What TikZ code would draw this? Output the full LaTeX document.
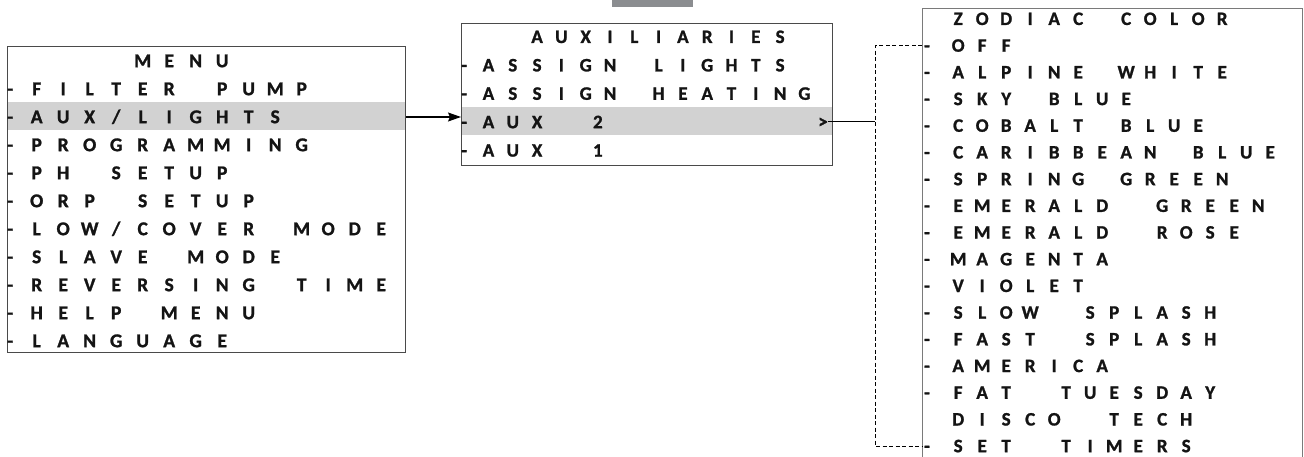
\documentclass[tikz,border=0pt]{standalone}
\usepackage{fontspec}
\setmainfont{Carlito}
\newfontfamily\lcdfont{Carlito Bold}[FakeBold=1.2]
\usetikzlibrary{arrows.meta}
\definecolor{ink}{HTML}{141414}
\definecolor{bandgray}{HTML}{D2D2D2}
\definecolor{tabgray}{HTML}{8B8D90}
\definecolor{frameA}{HTML}{4A4A4A}
\definecolor{frameB}{HTML}{7A7A7A}
\newlength\cellw
\makeatletter
\def\gr@end{\gr@end}
\def\gridrow#1{\edef\gr@tmp{#1}\expandafter\gr@loop\gr@tmp\gr@end}
\def\gr@loop#1{\ifx#1\gr@end\expandafter\@gobble\else\expandafter\@firstofone\fi{\gr@cell#1\gr@loop}}
\def\gr@cell#1{\ifx#1*\hbox to\cellw{}\else\ifx#1.\hbox to.5\cellw{}\else\ifx#1:\hbox to.3\cellw{}\else\hbox to\cellw{\hss#1\hss}\fi\fi\fi}
\makeatother
\tikzset{
  frame/.style={draw=frameA, line width=1pt, inner sep=0pt, anchor=north west},
  band/.style={fill=bandgray, draw=none, inner sep=0pt, anchor=north west},
  rowL/.style={anchor=west, inner sep=0pt, text height=12.4pt, text depth=0pt, text=ink,
    font={\lcdfont\fontsize{19.5}{19.5}\selectfont\setlength\cellw{26.5pt}}},
  rowM/.style={anchor=west, inner sep=0pt, text height=12pt, text depth=0pt, text=ink,
    font={\lcdfont\fontsize{19}{19}\selectfont\setlength\cellw{24.3pt}}},
  rowR/.style={anchor=west, inner sep=0pt, text height=12pt, text depth=0pt, text=ink,
    font={\lcdfont\fontsize{19}{19}\selectfont\setlength\cellw{24pt}}},
  link/.style={draw=black, line width=1.2pt},
  dline/.style={draw=black, line width=1pt, dash pattern=on 4pt off 2.5pt},
}
\begin{document}
\begin{tikzpicture}[x=1pt,y=-1pt]
\useasboundingbox[fill=white] (0,0) rectangle (1304,457);
% gray tab at top
\node[fill=tabgray, inner sep=0pt, anchor=north west, minimum width=81pt, minimum height=7pt] (tab) at (612,0) {};
% highlight bands
\node[band, minimum width=398pt, minimum height=28pt] (bandL) at (7,102) {};
\node[band, minimum width=371pt, minimum height=28pt] (bandM) at (461,107) {};
% frames
\node[frame, minimum width=398pt, minimum height=306pt] (menu) at (7,46) {};
\node[frame, minimum width=371pt, minimum height=142pt] (aux) at (461,23) {};
\node[frame, draw=frameB, minimum width=380pt, minimum height=480pt] (zodiac) at (922,8) {};
% left rows
\foreach \s [count=\i from 0] in {*****MENU,-FILTER*PUMP,-AUX/LIGHTS,-PROGRAMMING,-PH*SETUP,-ORP*SETUP,-LOW/COVER*MODE,-SLAVE*MODE,-REVERSING*TIME,-HELP*MENU,-LANGUAGE}
  \node[rowL] (l\i) at (-3.25,61+28*\i) {\gridrow{\s}};
% middle rows
\foreach \s [count=\i from 0] in {***AUXILIARIES,-ASSIGN*LIGHTS,-ASSIGN*HEATING,-AUX*.2,-AUX*.1}
  \node[rowM] (m\i) at (451.85,37+28.4*\i) {\gridrow{\s}};
\node[rowM, anchor=center] (gt) at (823,122) {>};
% right rows
\foreach \s [count=\i from 0] in {*:ZODIAC*COLOR,-:OFF,-:ALPINE*WHITE,-:SKY*BLUE,-:COBALT*BLUE,-:CARIBBEAN*BLUE,-:SPRING*GREEN,-:EMERALD*.GREEN,-:EMERALD*.ROSE,-:MAGENTA,-:VIOLET,-:SLOW*.SPLASH,-:FAST*.SPLASH,-:AMERICA,-:FAT*.TUESDAY,*:DISCO*.TECH,-:SET*.TIMERS}
  \node[rowR] (r\i) at (914.8,19+26.7*\i) {\gridrow{\s}};
% connectors
\draw[link, -{Stealth[length=13pt,width=9pt,inset=2pt]}] (menu.east |- l2) -- (aux.west |- l2);
\coordinate (dx) at (875,0);
\draw[link, line width=1pt] (gt.east) -- (dx |- gt);
\draw[dline] (zodiac.west |- r1) -- (dx |- r1) -- (dx |- r16) -- (zodiac.west |- r16);
\end{tikzpicture}
\end{document}
